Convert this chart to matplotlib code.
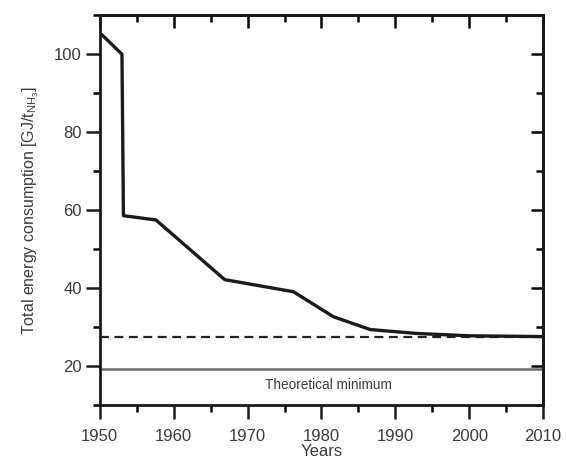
import matplotlib
matplotlib.use('Agg')
from matplotlib import pyplot as plt
from matplotlib.ticker import MultipleLocator

plt.rcParams['font.family'] = ['Liberation Sans', 'DejaVu Sans']
plt.rcParams['mathtext.fontset'] = 'custom'
plt.rcParams['mathtext.rm'] = 'Liberation Sans'
plt.rcParams['mathtext.it'] = 'Liberation Sans'

# data
years = [1950, 1953, 1953.2, 1957.6, 1966.9, 1976.2, 1981.6, 1986.6, 1992.9, 2000, 2010]
consumption = [105.5, 100, 58.6, 57.5, 42.2, 39.1, 32.7, 29.4, 28.4, 27.8, 27.6]
best_practice = 27.6
theoretical_min = 19.3

fig = plt.figure(figsize=(5.67, 4.61), dpi=100)
ax = fig.add_axes([0.176, 0.121, 0.782, 0.846])

ax.axhline(best_practice, color='#222222', linewidth=1.6, linestyle=(0, (4, 2.5)), zorder=2)
ax.axhline(theoretical_min, color='#6a6a6a', linewidth=1.8, zorder=2)
ax.plot(years, consumption, color='#1a1a1a', linewidth=2.4, zorder=3)
ax.text(1981, 15.3, 'Theoretical minimum', ha='center', va='center', fontsize=9.8, color='#3a3a3a')

ax.set_xlim(1950, 2010)
ax.set_ylim(10, 110)
ax.xaxis.set_major_locator(MultipleLocator(10))
ax.xaxis.set_minor_locator(MultipleLocator(5))
ax.yaxis.set_major_locator(MultipleLocator(20))
ax.yaxis.set_minor_locator(MultipleLocator(10))
ax.set_yticks([20, 40, 60, 80, 100])
ax.tick_params(which='major', direction='out', length=10, width=1.8, labelsize=12, colors='#1a1a1a',
               labelcolor='#3a3a3a', pad=3)
ax.tick_params(axis='x', which='major', pad=7)
ax.tick_params(which='minor', direction='out', length=5, width=1.8)
for s in ax.spines.values():
    s.set_linewidth(2)
    s.set_color('#1a1a1a')

# mirrored ticks pointing inward on top and right
top = ax.secondary_xaxis('top')
top.xaxis.set_major_locator(MultipleLocator(10))
top.xaxis.set_minor_locator(MultipleLocator(5))
top.tick_params(which='major', direction='in', length=9, width=1.8, labeltop=False)
top.tick_params(which='minor', direction='in', length=5, width=1.8)
top.spines['top'].set_linewidth(2)
right = ax.secondary_yaxis('right')
right.yaxis.set_major_locator(MultipleLocator(20))
right.yaxis.set_minor_locator(MultipleLocator(10))
right.tick_params(which='major', direction='in', length=9, width=1.8, labelright=False)
right.tick_params(which='minor', direction='in', length=5, width=1.8)
right.spines['right'].set_linewidth(2)

ax.set_xlabel('Years', fontsize=12, labelpad=0, color='#3a3a3a')
ax.set_ylabel(r'Total energy consumption [GJ/t$_{\mathrm{NH_3}}$]', fontsize=11.5, labelpad=9, color='#3a3a3a')

plt.savefig('out.png', dpi=100)
